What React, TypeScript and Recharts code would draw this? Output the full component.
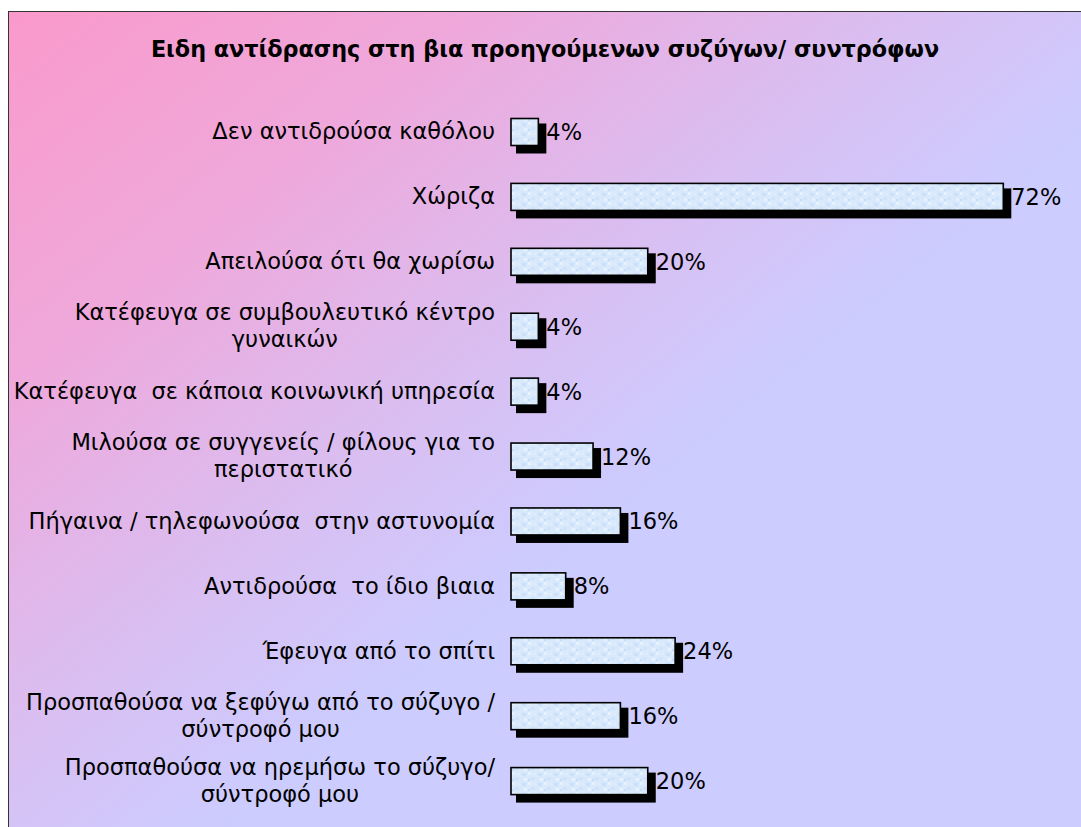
import { BarChart, Bar, XAxis, YAxis, LabelList } from 'recharts';

const title = 'Ειδη αντίδρασης στη βια προηγούμενων συζύγων/ συντρόφων';

const categories = [
  'Δεν αντιδρούσα καθόλου',
  'Χώριζα',
  'Απειλούσα ότι θα χωρίσω',
  'Κατέφευγα σε συμβουλευτικό κέντρο\nγυναικών',
  'Κατέφευγα  σε κάποια κοινωνική υπηρεσία',
  'Μιλούσα σε συγγενείς / φίλους για το\nπεριστατικό',
  'Πήγαινα / τηλεφωνούσα  στην αστυνομία',
  'Αντιδρούσα  το ίδιο βιαια',
  'Έφευγα από το σπίτι',
  'Προσπαθούσα να ξεφύγω από το σύζυγο /\nσύντροφό μου',
  'Προσπαθούσα να ηρεμήσω το σύζυγο/\nσύντροφό μου',
];

const percents = [4, 72, 20, 4, 4, 12, 16, 8, 24, 16, 20];

const rows = categories.map((name, i) => ({ name, value: percents[i] }));

const FONT = "'DejaVu Sans', Verdana, sans-serif";
const FONT_SIZE = 22.5;

let ctx: CanvasRenderingContext2D | null = null;
function textWidth(s: string) {
  if (!ctx) {
    ctx = document.createElement('canvas').getContext('2d');
  }
  if (!ctx) return s.length * 12;
  ctx.font = `${FONT_SIZE}px ${FONT}`;
  return ctx.measureText(s).width;
}

// category labels, multi-line ones centred on their longest line
function CategoryTick(props: any) {
  const { x, y, payload } = props;
  const lines: string[] = String(payload.value).split('\n');
  if (lines.length === 1) {
    return (
      <text x={x} y={y + 7.5} textAnchor="end" fontSize={FONT_SIZE} fontFamily={FONT}
        fill="#000" style={{ whiteSpace: 'pre' }}>
        {lines[0]}
      </text>
    );
  }
  const maxW = Math.max(...lines.map(textWidth));
  const cx = x - maxW / 2;
  return (
    <text x={cx} y={y - 6.5} textAnchor="middle" fontSize={FONT_SIZE} fontFamily={FONT}
      fill="#000" style={{ whiteSpace: 'pre' }}>
      {lines.map((l, i) => (
        <tspan key={i} x={cx} dy={i === 0 ? 0 : 27}>{l}</tspan>
      ))}
    </text>
  );
}

function ShadowBar(props: any) {
  const { x, y, width, height } = props;
  if (width == null || width <= 0) return null;
  return (
    <g>
      <rect x={x + 5} y={y + 5} width={width + 3} height={height + 3} fill="#000" />
      <rect x={x} y={y} width={width} height={height} fill="url(#blueTexture)"
        stroke="#000" strokeWidth={1.6} />
    </g>
  );
}

function ValueLabel(props: any) {
  const vb = props.viewBox ?? props;
  const { x, y, width, height } = vb;
  return (
    <text x={x + width + 8} y={y + height / 2 + 8} fontSize={FONT_SIZE} fontFamily={FONT} fill="#000">
      {props.value}%
    </text>
  );
}

export default function App() {
  return (
    <div>
      <style>{'body{margin:0;overflow:hidden}'}</style>
      <svg width={0} height={0} style={{ position: 'absolute' }}>
        <defs>
          <pattern id="blueTexture" width={16} height={10} patternUnits="userSpaceOnUse">
            <rect width={16} height={10} fill="#D8E9FB" />
            <rect x={1} y={1} width={4} height={3} fill="#CBE0F8" />
            <rect x={7} y={0} width={3} height={3} fill="#E6F1FC" />
            <rect x={10} y={5} width={4} height={3} fill="#CEE2F9" />
            <rect x={3} y={6} width={3} height={3} fill="#E8F2FD" />
            <rect x={12} y={1} width={3} height={2} fill="#E0EDFC" />
            <rect x={7} y={7} width={2} height={2} fill="#C6DDF7" />
          </pattern>
        </defs>
      </svg>
      <div
        style={{
          position: 'absolute',
          left: 8,
          top: 11,
          width: 1090,
          height: 830,
          border: '1px solid #333',
          background:
            'linear-gradient(141deg, #FA9ACB 0%, #EFA8DB 22%, #DABEF1 42%, #CCCCFF 58%, #CCCCFF 100%)',
          overflow: 'hidden',
        }}
      >
        <div
          style={{
            position: 'absolute',
            left: 0,
            top: 24,
            width: 1072,
            textAlign: 'center',
            fontFamily: FONT,
            fontWeight: 'bold',
            fontSize: 22.3,
            color: '#000',
          }}
        >
          {title}
        </div>
        <BarChart
          layout="vertical"
          data={rows}
          width={1072}
          height={815}
          margin={{ top: 87.5, right: 23, bottom: 13.5, left: 0 }}
        >
          <XAxis type="number" hide domain={[0, 80]} />
          <YAxis
            type="category"
            dataKey="name"
            width={502}
            tickLine={false}
            axisLine={false}
            tickSize={0}
            tickMargin={16}
            interval={0}
            tick={<CategoryTick />}
          />
          <Bar dataKey="value" barSize={27} shape={<ShadowBar />} isAnimationActive={false}>
            <LabelList dataKey="value" content={<ValueLabel />} />
          </Bar>
        </BarChart>
      </div>
    </div>
  );
}
